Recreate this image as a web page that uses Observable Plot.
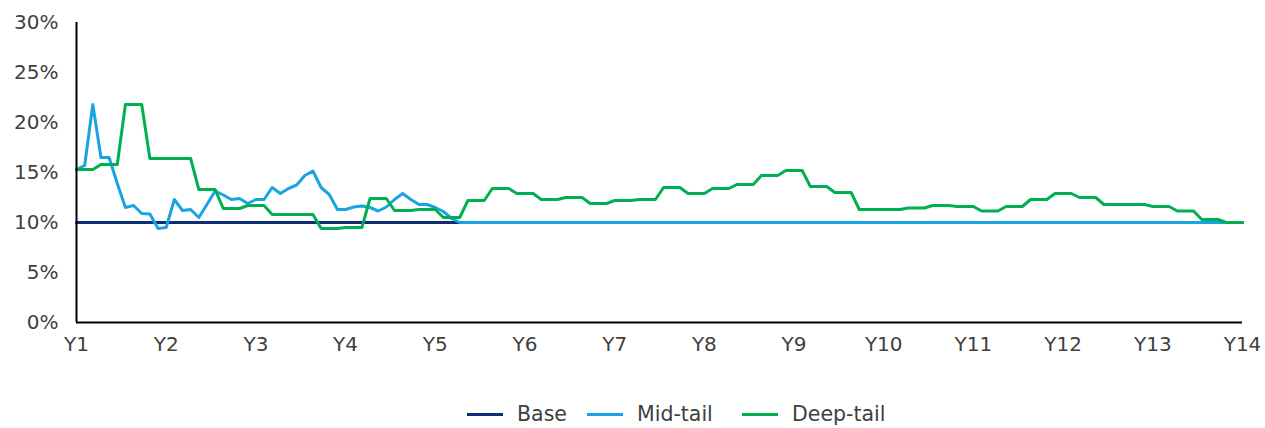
<!DOCTYPE html>
<html>
<head>
<meta charset="utf-8">
<script src="https://cdn.jsdelivr.net/npm/d3@7"></script>
<script src="https://cdn.jsdelivr.net/npm/@observablehq/plot@0.6"></script>
<style>
  html, body { margin: 0; padding: 0; background: #fff; }
  #chart { width: 1265px; }
  .legend { position: relative; height: 53px; font-family: "DejaVu Sans", sans-serif; font-size: 20.5px; color: #404040; }
  .item { position: absolute; top: 27px; display: flex; align-items: center; height: 24px; }
  .sw { width: 36px; height: 3px; margin-right: 14px; }
</style>
</head>
<body>
<div id="chart"></div>
<div class="legend" id="legend"></div>
<script>
// Month index along the x axis (0 = Y1, 143 = Y14)
const yearLabels = ["Y1","Y2","Y3","Y4","Y5","Y6","Y7","Y8","Y9","Y10","Y11","Y12","Y13","Y14"];
const yearTickMonths = [0,11,22,33,44,55,66,77,88,99,110,121,132,143];

const seriesNames = ["Base", "Mid-tail", "Deep-tail"];
const seriesColors = ["#0C2D72", "#1AA3E3", "#00B050"];

// Base: flat 10%
const baseValue = 10;
const monthCount = 144;

// Mid-tail: monthly values for the first 48 months, then flat at 10%
const midTailEarly = [
  15.3, 15.7, 21.8, 16.5, 16.5, 13.9, 11.5, 11.7, 10.9, 10.85, 9.4, 9.5,
  12.3, 11.2, 11.3, 10.5, 11.8, 13.15, 12.75, 12.3, 12.4, 11.9, 12.3, 12.3,
  13.5, 12.9, 13.4, 13.75, 14.7, 15.15, 13.5, 12.8, 11.3, 11.3, 11.55, 11.65,
  11.5, 11.15, 11.55, 12.3, 12.9, 12.3, 11.8, 11.8, 11.5, 11.1, 10.4, 10.0
];
const midTailLate = 10;

// Deep-tail: quarterly values (each held for three months)
const deepTailQuarterly = [
  15.3, 15.8, 21.8, 16.4, 16.4, 13.3, 11.4, 11.7, 10.8, 10.8, 9.4, 9.5,
  12.4, 11.2, 11.3, 10.5, 12.2, 13.4, 12.9, 12.3, 12.5, 11.9, 12.2, 12.3,
  13.5, 12.9, 13.4, 13.8, 14.7, 15.2, 13.6, 13.0, 11.3, 11.3, 11.45, 11.7,
  11.6, 11.15, 11.6, 12.3, 12.9, 12.5, 11.8, 11.8, 11.6, 11.15, 10.3, 10.0
];

const months = d3.range(monthCount);
const baseData = months.map(m => ({x: m, y: baseValue}));
const midData = months.map(m => ({x: m, y: m < midTailEarly.length ? midTailEarly[m] : midTailLate}));
const deepData = months.map(m => ({x: m, y: deepTailQuarterly[Math.floor(m / 3)]}));

const labelByMonth = new Map(yearTickMonths.map((m, i) => [m, yearLabels[i]]));

const chart = Plot.plot({
  width: 1265,
  height: 375,
  marginTop: 22,
  marginBottom: 53,
  marginLeft: 76,
  marginRight: 23,
  style: { fontFamily: "DejaVu Sans, sans-serif", fontSize: "20px", color: "#404040", background: "#fff" },
  x: { domain: [0, monthCount - 1], ticks: yearTickMonths, tickFormat: d => labelByMonth.get(d), tickSize: 0, tickPadding: 14, label: null },
  y: { domain: [0, 30], ticks: [0, 5, 10, 15, 20, 25, 30], tickFormat: d => d + "%", tickSize: 0, tickPadding: 18, label: null },
  marks: [
    Plot.line(baseData, { x: "x", y: "y", stroke: seriesColors[0], strokeWidth: 3 }),
    Plot.line(midData, { x: "x", y: "y", stroke: seriesColors[1], strokeWidth: 3, strokeLinejoin: "round" }),
    Plot.line(deepData, { x: "x", y: "y", stroke: seriesColors[2], strokeWidth: 3, strokeLinejoin: "round" }),
    Plot.ruleY([0], { stroke: "#000", strokeWidth: 2 }),
    Plot.ruleX([0], { stroke: "#000", strokeWidth: 2 })
  ]
});
document.getElementById("chart").appendChild(chart);

const legendLefts = [467, 587, 742];
const legend = document.getElementById("legend");
seriesNames.forEach((name, i) => {
  const item = document.createElement("div");
  item.className = "item";
  item.style.left = legendLefts[i] + "px";
  const sw = document.createElement("span");
  sw.className = "sw";
  sw.style.background = seriesColors[i];
  const t = document.createElement("span");
  t.textContent = name;
  item.appendChild(sw);
  item.appendChild(t);
  legend.appendChild(item);
});
</script>
</body>
</html>
